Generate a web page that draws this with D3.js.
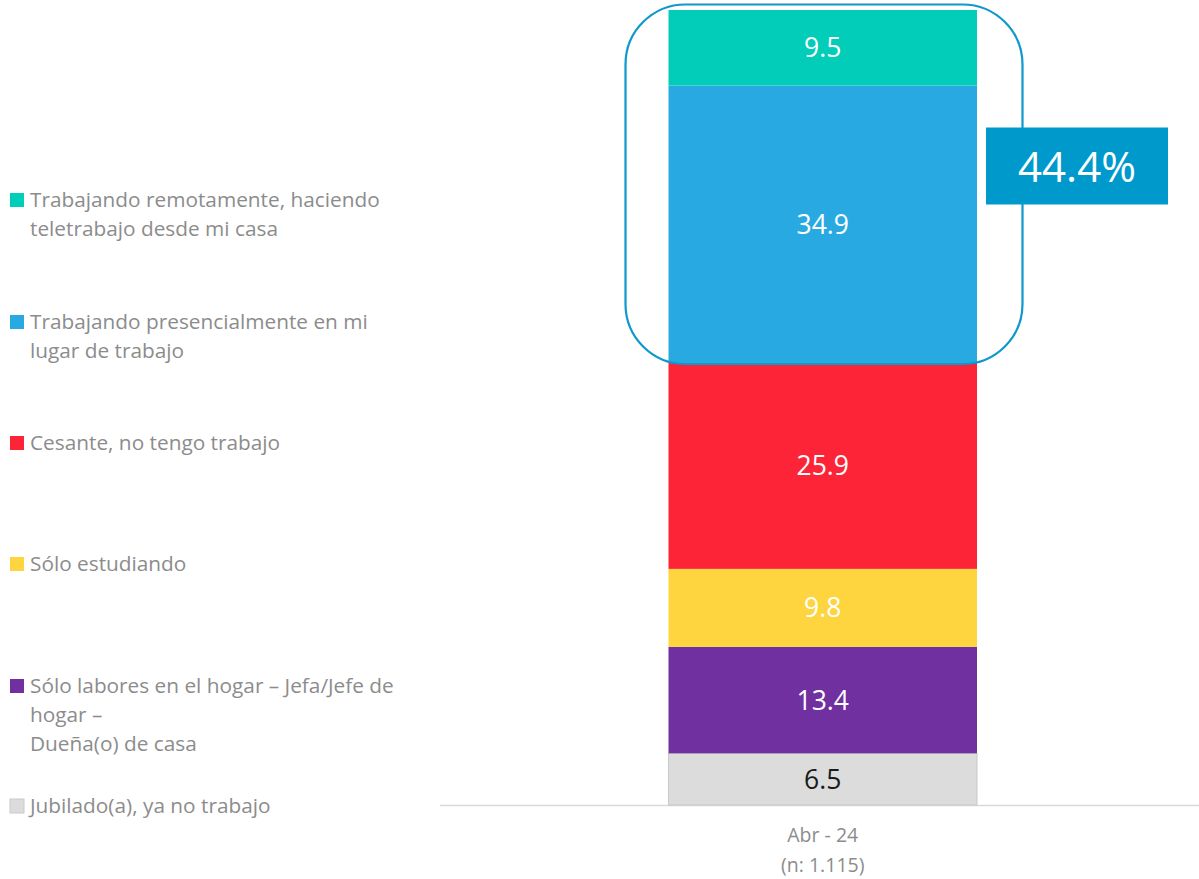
<!DOCTYPE html>
<html>
<head>
<meta charset="utf-8">
<script src="https://cdn.jsdelivr.net/npm/d3@7/dist/d3.min.js"></script>
<style>
  html, body { margin: 0; padding: 0; background: #fff; }
  svg { display: block; font-family: "Open Sans", Lato, sans-serif; }
</style>
</head>
<body>
<svg id="chart" width="1199" height="879"></svg>
<script>
// ---- data ----
const categories = ["Abr - 24"];
const categorySub = ["(n: 1.115)"];
const seriesNames = [
  "Jubilado(a), ya no trabajo",
  "Sólo labores en el hogar – Jefa/Jefe de hogar – Dueña(o) de casa",
  "Sólo estudiando",
  "Cesante, no tengo trabajo",
  "Trabajando presencialmente en mi lugar de trabajo",
  "Trabajando remotamente, haciendo teletrabajo desde mi casa"
];
const seriesValues = [6.5, 13.4, 9.8, 25.9, 34.9, 9.5];
const seriesColors = ["#dcdcdc", "#7030a0", "#fed43f", "#fe2437", "#29a9e1", "#02cdb9"];
const labelColors = ["#1a1a1a", "#ffffff", "#ffffff", "#ffffff", "#ffffff", "#ffffff"];
// legend lines (wrapped as in the original), top to bottom
const legendLines = [
  ["Trabajando remotamente, haciendo", "teletrabajo desde mi casa"],
  ["Trabajando presencialmente en mi", "lugar de trabajo"],
  ["Cesante, no tengo trabajo"],
  ["Sólo estudiando"],
  ["Sólo labores en el hogar – Jefa/Jefe de", "hogar –", "Dueña(o) de casa"],
  ["Jubilado(a), ya no trabajo"]
];
const legendSeriesIndex = [5, 4, 3, 2, 1, 0];
const highlightSeries = [4, 5];

// ---- layout ----
const svg = d3.select("#chart");
const y = d3.scaleLinear().domain([0, 100]).range([805, 10]);
const x = d3.scaleBand().domain(categories).range([668.5, 977]).paddingInner(0).paddingOuter(0);

// stack
const row = {};
seriesValues.forEach((v, i) => row["s" + i] = v);
const stack = d3.stack().keys(seriesValues.map((v, i) => "s" + i))([row]);

// axis line
svg.append("line")
  .attr("x1", 440).attr("x2", 1199)
  .attr("y1", y(0) + 0.5).attr("y2", y(0) + 0.5)
  .attr("stroke", "#d9d9d9").attr("stroke-width", 1.5);

const bars = svg.append("g");
stack.forEach((layer, i) => {
  const d = layer[0];
  bars.append("rect")
    .attr("x", x(categories[0]))
    .attr("width", x.bandwidth())
    .attr("y", y(d[1]))
    .attr("height", y(d[0]) - y(d[1]))
    .attr("fill", seriesColors[i])
    .attr("stroke", i === 0 ? "#c9c9c9" : "none")
    .attr("stroke-width", i === 0 ? 1 : 0);
  bars.append("text")
    .attr("x", x(categories[0]) + x.bandwidth() / 2)
    .attr("y", (y(d[0]) + y(d[1])) / 2)
    .attr("dy", "0.36em")
    .attr("text-anchor", "middle")
    .attr("font-size", 26.5)
    .attr("fill", labelColors[i])
    .text(seriesValues[i].toFixed(1));
});

// category labels
svg.append("text")
  .attr("x", x(categories[0]) + x.bandwidth() / 2)
  .attr("y", 842)
  .attr("text-anchor", "middle")
  .attr("font-size", 19.5)
  .attr("fill", "#8c8c8c")
  .text(categories[0]);
svg.append("text")
  .attr("x", x(categories[0]) + x.bandwidth() / 2)
  .attr("y", 872)
  .attr("text-anchor", "middle")
  .attr("font-size", 19.5)
  .attr("fill", "#8c8c8c")
  .text(categorySub[0]);

// highlight rounded rectangle around top two segments
const hiLow = d3.min(highlightSeries, i => stack[i][0][0]);
const hiHigh = d3.max(highlightSeries, i => stack[i][0][1]);
const hiSum = d3.sum(highlightSeries, i => seriesValues[i]);
svg.append("rect")
  .attr("x", x(categories[0]) - 43)
  .attr("y", y(hiHigh) - 5.5)
  .attr("width", x.bandwidth() + 43 + 45.5)
  .attr("height", y(hiLow) - y(hiHigh) + 6.5)
  .attr("rx", 60).attr("ry", 60)
  .attr("fill", "none")
  .attr("stroke", "#0f98cc")
  .attr("stroke-width", 2.2);

// callout box
svg.append("rect")
  .attr("x", 986).attr("y", 127.5)
  .attr("width", 182).attr("height", 77)
  .attr("fill", "#0099cc");
svg.append("text")
  .attr("x", 1077).attr("y", 167)
  .attr("dy", "0.36em")
  .attr("text-anchor", "middle")
  .attr("font-size", 42)
  .attr("fill", "#ffffff")
  .text(hiSum.toFixed(1) + "%");

// legend
const legendY = [200, 322, 443, 564, 686, 806];
const lineH = 29;
const lg = svg.append("g");
legendLines.forEach((lines, k) => {
  const si = legendSeriesIndex[k];
  lg.append("rect")
    .attr("x", 10).attr("y", legendY[k] - 7)
    .attr("width", 14).attr("height", 14)
    .attr("fill", seriesColors[si])
    .attr("stroke", si === 0 ? "#c9c9c9" : "none");
  const t = lg.append("text")
    .attr("font-size", 20.8)
    .attr("fill", "#8c8c8c");
  lines.forEach((ln, j) => {
    t.append("tspan")
      .attr("x", 30)
      .attr("y", legendY[k] + j * lineH)
      .attr("dy", "0.35em")
      .text(ln);
  });
});
</script>
</body>
</html>
